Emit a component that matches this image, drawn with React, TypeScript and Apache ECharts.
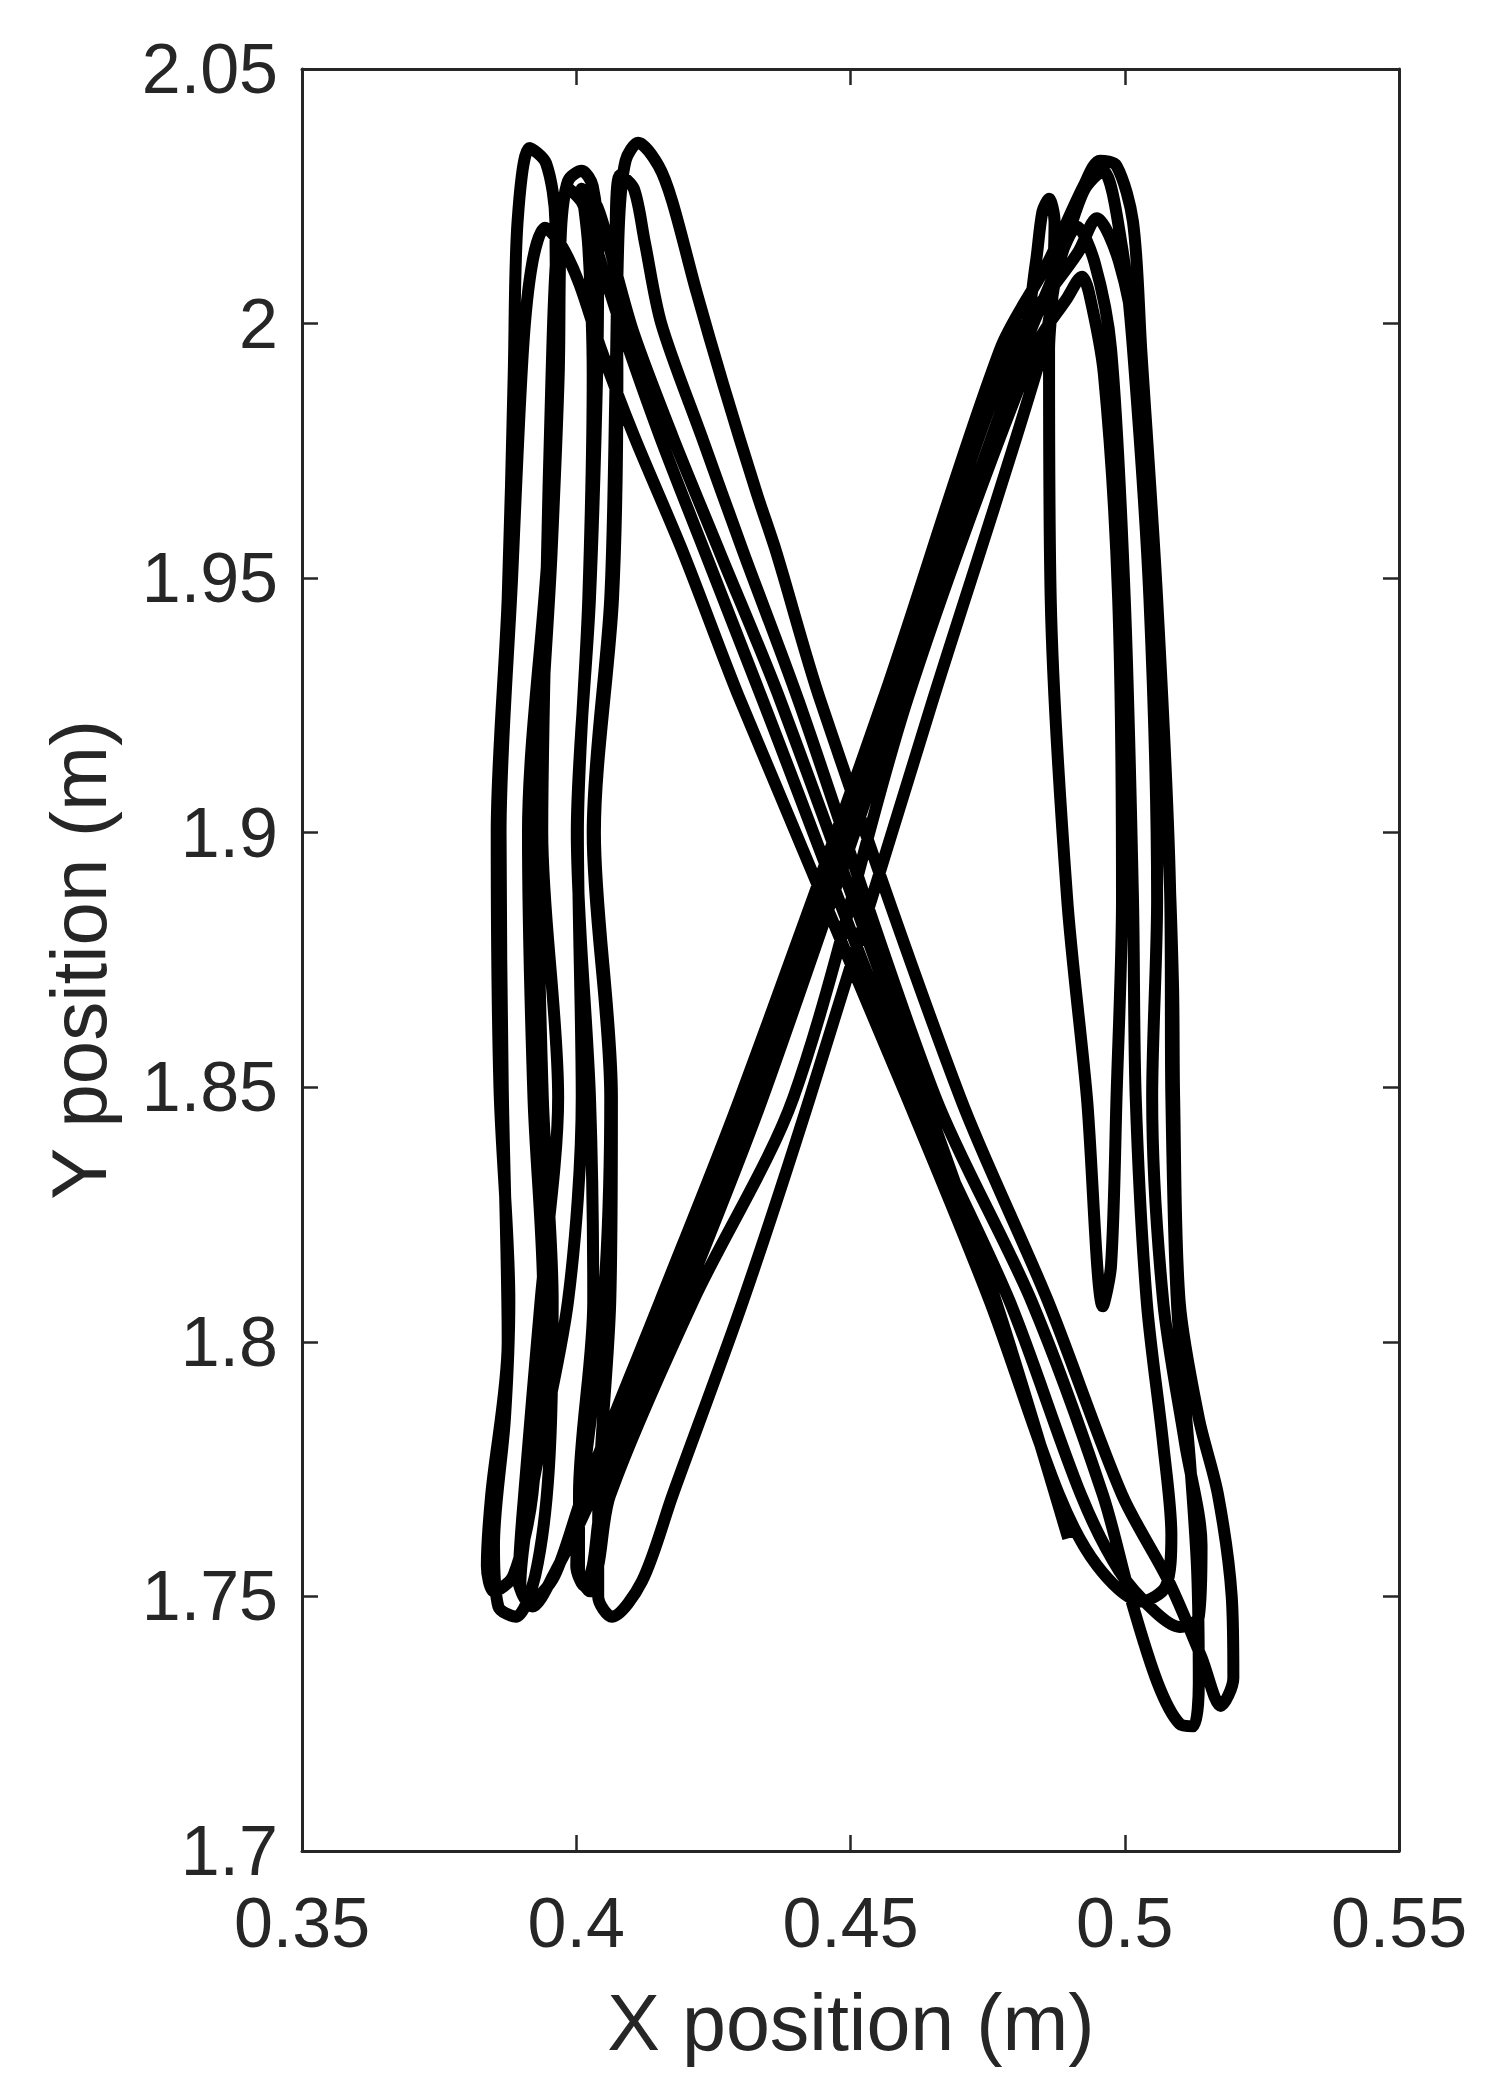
import React, { useEffect, useRef } from "react";
import * as echarts from "echarts";

type Pt = [number, number];

const xTickLabels = ["0.35", "0.4", "0.45", "0.5", "0.55"];
const yTickLabels = ["1.7", "1.75", "1.8", "1.85", "1.9", "1.95", "2", "2.05"];
const xTitle = "X position (m)";
const yTitle = "Y position (m)";

// trajectory, in the order it is drawn
const segment1: Pt[] = [
  [0.4055, 1.768], [0.4195, 1.808], [0.434, 1.848], [0.459, 1.926], [0.4812, 1.995],
  [0.4838, 2.012], [0.485, 2.022], [0.4862, 2.0245], [0.4872, 2.02], [0.4868, 2.005],
  [0.4862, 1.995], [0.4865, 1.946], [0.4895, 1.887], [0.4931, 1.848], [0.496, 1.807],
  [0.4975, 1.815], [0.4985, 1.848], [0.4995, 1.887], [0.4988, 1.946], [0.4962, 1.99],
  [0.4935, 2.006], [0.4922, 2.0092], [0.4895, 2.005], [0.4835, 1.995], [0.4603, 1.926],
  [0.4396, 1.848], [0.4213, 1.808], [0.4062, 1.77], [0.404, 1.756], [0.4025, 1.751],
  [0.4005, 1.755], [0.4005, 1.77], [0.4031, 1.808], [0.4025, 1.848], [0.4001, 1.9],
  [0.4025, 1.946], [0.4038, 1.99], [0.404, 2.015], [0.403, 2.027], [0.401, 2.03],
  [0.3985, 2.028], [0.3972, 2.018], [0.3968, 1.99], [0.3955, 1.955], [0.393, 1.9],
  [0.3939, 1.848], [0.3957, 1.808], [0.395, 1.775], [0.3925, 1.754], [0.389, 1.746],
];

const segment2: Pt[] = [
  [0.3858, 1.748], [0.385, 1.76], [0.387, 1.785], [0.3878, 1.808], [0.386, 1.85],
  [0.3855, 1.9], [0.3875, 1.946], [0.3886, 1.99], [0.3893, 2.02], [0.3915, 2.0345],
  [0.3945, 2.0315], [0.3962, 2.02], [0.3963, 1.995], [0.3948, 1.955], [0.3912, 1.9],
  [0.3922, 1.848], [0.394, 1.808], [0.392, 1.77], [0.3885, 1.754], [0.385, 1.751],
  [0.3837, 1.756], [0.3845, 1.77], [0.3875, 1.8], [0.3866, 1.85], [0.3862, 1.9],
  [0.3883, 1.95], [0.3903, 1.995], [0.392, 2.012], [0.3943, 2.0188], [0.3972, 2.0155],
  [0.4005, 2.008], [0.4045, 1.995], [0.4105, 1.978], [0.4195, 1.955], [0.4299, 1.926],
  [0.4603, 1.848], [0.4754, 1.808], [0.488, 1.77], [0.495, 1.756], [0.503, 1.749],
  [0.5075, 1.752], [0.5085, 1.762], [0.507, 1.78], [0.504, 1.808], [0.502, 1.848],
  [0.5015, 1.887], [0.5, 1.946], [0.4975, 1.995], [0.4945, 2.012], [0.4913, 2.019],
];

const segment3: Pt[] = [
  [0.488, 2.012], [0.4851, 1.995], [0.465, 1.926], [0.4426, 1.848], [0.4304, 1.808],
  [0.4176, 1.77], [0.412, 1.753], [0.4065, 1.746], [0.404, 1.75], [0.404, 1.765],
  [0.4062, 1.808], [0.4065, 1.848], [0.4034, 1.9], [0.4067, 1.946], [0.4075, 1.99],
  [0.4072, 2.018], [0.408, 2.0292], [0.4105, 2.0265], [0.4125, 2.016], [0.4155, 2.0],
  [0.4228, 1.978], [0.4305, 1.955], [0.4405, 1.926], [0.4655, 1.848], [0.483, 1.808],
  [0.496, 1.77], [0.501, 1.75], [0.506, 1.733], [0.51, 1.725], [0.5125, 1.7245],
  [0.5135, 1.733], [0.5132, 1.755], [0.512, 1.775], [0.5095, 1.808], [0.5085, 1.848],
  [0.5083, 1.887], [0.5059, 1.946], [0.503, 1.995], [0.5015, 2.02], [0.4985, 2.031],
  [0.4955, 2.032],
];

const segment4: Pt[] = [
  [0.4925, 2.027], [0.486, 2.012], [0.4773, 1.995], [0.4559, 1.926], [0.4299, 1.848],
  [0.4153, 1.808], [0.4012, 1.77], [0.396, 1.754], [0.3915, 1.749], [0.3895, 1.753],
  [0.3905, 1.77], [0.3935, 1.808], [0.3967, 1.848], [0.3938, 1.9], [0.3945, 1.946],
  [0.3955, 1.99], [0.3965, 2.015], [0.3985, 2.0265], [0.4012, 2.0235], [0.4042, 2.013],
  [0.408, 2.0], [0.4152, 1.978], [0.4235, 1.955], [0.434, 1.926], [0.462, 1.848],
  [0.479, 1.808], [0.492, 1.77], [0.499, 1.755], [0.5055, 1.747], [0.51, 1.744],
  [0.5135, 1.746], [0.514, 1.76], [0.511, 1.78], [0.507, 1.808], [0.505, 1.848],
  [0.5059, 1.887], [0.5045, 1.946], [0.5015, 1.995], [0.4995, 2.015], [0.496, 2.03],
];

const segment5: Pt[] = [
  [0.4925, 2.026], [0.488, 2.012], [0.4815, 1.995], [0.459, 1.926], [0.434, 1.848],
  [0.4195, 1.808], [0.405, 1.77], [0.403, 1.756], [0.4015, 1.752], [0.4, 1.756],
  [0.401, 1.77], [0.405, 1.808], [0.4062, 1.848], [0.403, 1.9], [0.4062, 1.946],
  [0.4072, 1.99], [0.4078, 2.02], [0.409, 2.032], [0.4113, 2.0355], [0.415, 2.031],
  [0.4175, 2.024], [0.4219, 2.0063], [0.4268, 1.988], [0.4328, 1.967], [0.4365, 1.955],
  [0.4445, 1.926], [0.47, 1.848], [0.486, 1.808], [0.4995, 1.77], [0.508, 1.753],
  [0.514, 1.738], [0.5175, 1.7285], [0.5198, 1.734], [0.5195, 1.75], [0.517, 1.77],
  [0.5135, 1.785], [0.51, 1.808], [0.509, 1.848], [0.5088, 1.87], [0.5078, 1.9],
  [0.5052, 1.946], [0.502, 1.995], [0.499, 2.012], [0.4949, 2.0207],
];

const segment6: Pt[] = [
  [0.4915, 2.014], [0.4795, 1.995], [0.4575, 1.926], [0.432, 1.848], [0.4175, 1.808],
  [0.403, 1.77], [0.396, 1.7545], [0.392, 1.748], [0.3898, 1.752], [0.3918, 1.77],
  [0.3985, 1.808], [0.401, 1.848], [0.4003, 1.9], [0.4022, 1.946], [0.403, 1.99],
  [0.4022, 2.015], [0.401, 2.0265], [0.4038, 2.023], [0.4068, 2.012], [0.4105, 1.998],
  [0.4175, 1.978], [0.4262, 1.955], [0.4372, 1.926], [0.4635, 1.848], [0.4765, 1.808],
  [0.4897, 1.7614],
];

const trajectory: Pt[] = [
  ...segment1, ...segment2, ...segment3, ...segment4, ...segment5, ...segment6,
];

const X_MIN = 0.35, X_MAX = 0.55, X_STEP = 0.05;
const Y_MIN = 1.7, Y_MAX = 2.05, Y_STEP = 0.05;

export default function App() {
  const ref = useRef<HTMLDivElement>(null);
  useEffect(() => {
    if (!ref.current) return;
    const chart = echarts.init(ref.current, null, { renderer: "svg" });
    const fontFamily = "'Liberation Sans', Arial, Helvetica, sans-serif";
    const axisColor = "#262626";
    const axisLine = { show: true, onZero: false, lineStyle: { color: axisColor, width: 3 } };
    const axisTick = { show: true, inside: true, length: 16, lineStyle: { color: axisColor, width: 2.5 } };
    const xBase = {
      type: "value" as const, min: X_MIN, max: X_MAX, interval: X_STEP,
      splitLine: { show: false }, axisLine, axisTick,
    };
    const yBase = {
      type: "value" as const, min: Y_MIN, max: Y_MAX, interval: Y_STEP,
      splitLine: { show: false }, axisLine, axisTick,
    };
    chart.setOption({
      animation: false,
      backgroundColor: "#ffffff",
      grid: { left: 302, top: 69, right: 113, bottom: 229, containLabel: false },
      xAxis: [
        {
          ...xBase, position: "bottom",
          axisLabel: {
            show: true, fontSize: 70, fontFamily, color: axisColor, margin: 37,
            formatter: (v: number) => xTickLabels[Math.round((v - X_MIN) / X_STEP)] ?? "",
          },
        },
        { ...xBase, position: "top", axisLabel: { show: false } },
      ],
      yAxis: [
        {
          ...yBase, position: "left",
          axisLabel: {
            show: true, fontSize: 70, fontFamily, color: axisColor, margin: 24,
            formatter: (v: number) => yTickLabels[Math.round((v - Y_MIN) / Y_STEP)] ?? "",
          },
        },
        { ...yBase, position: "right", axisLabel: { show: false } },
      ],
      series: [
        {
          type: "line",
          xAxisIndex: 0,
          yAxisIndex: 0,
          data: trajectory,
          showSymbol: false,
          symbol: "none",
          smooth: 0.3,
          silent: true,
          lineStyle: { color: "#000000", width: 12, cap: "butt", join: "round" },
        },
      ],
      graphic: [
        {
          type: "text", x: 851, y: 2022,
          style: {
            text: xTitle, fontSize: 79, fontFamily, fill: axisColor,
            align: "center", verticalAlign: "middle",
            textAlign: "center", textVerticalAlign: "middle",
          },
        },
        {
          type: "text", x: 79, y: 960, rotation: Math.PI / 2,
          style: {
            text: yTitle, fontSize: 78, fontFamily, fill: axisColor,
            align: "center", verticalAlign: "middle",
            textAlign: "center", textVerticalAlign: "middle",
          },
        },
      ],
    });
    return () => chart.dispose();
  }, []);
  return (
    <div
      ref={ref}
      style={{ position: "absolute", left: 0, top: 0, width: 1512, height: 2080 }}
    />
  );
}
